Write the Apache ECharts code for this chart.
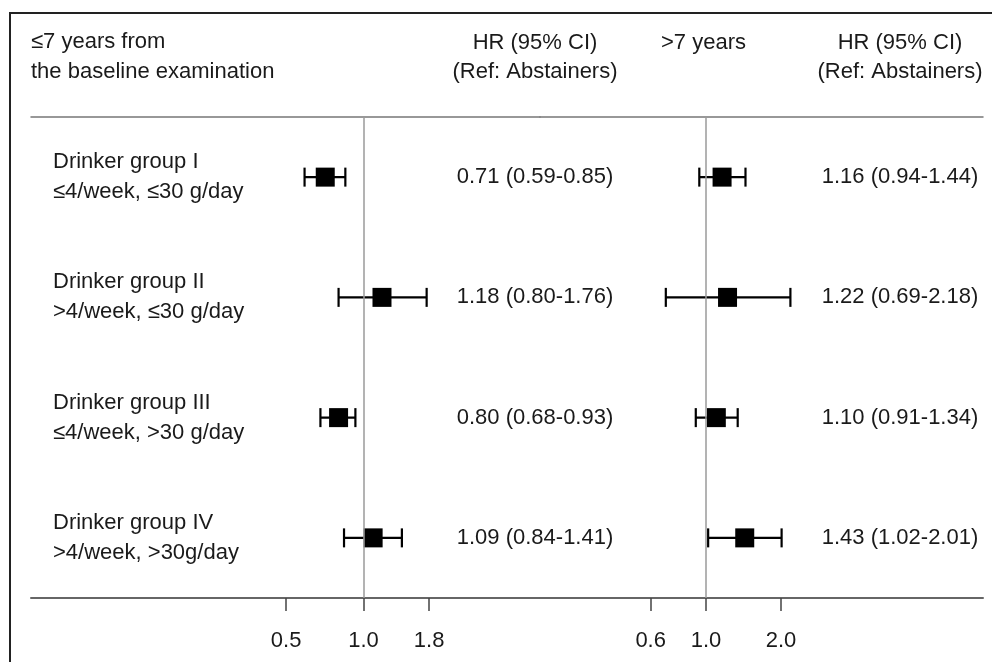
<!DOCTYPE html>
<html><head><meta charset="utf-8">
<script src="https://cdn.jsdelivr.net/npm/echarts@6/dist/echarts.min.js"></script>
<style>html,body{margin:0;padding:0;background:#fff}#c{width:992px;height:662px}</style>
</head><body><div id="c"></div>
<script>
const groups = ['Drinker group I', 'Drinker group II', 'Drinker group III', 'Drinker group IV'];
const criteria = ['≤4/week, ≤30 g/day', '>4/week, ≤30 g/day', '≤4/week, >30 g/day', '>4/week, >30g/day'];
const earlyHR = [0.71, 1.18, 0.80, 1.09];
const earlyLo = [0.59, 0.80, 0.68, 0.84];
const earlyHi = [0.85, 1.76, 0.93, 1.41];
const lateHR = [1.16, 1.22, 1.10, 1.43];
const lateLo = [0.94, 0.69, 0.91, 1.02];
const lateHi = [1.44, 2.18, 1.34, 2.01];
const earlyTicks = [0.5, 1.0, 1.8];
const lateTicks = [0.6, 1.0, 2.0];
const headerLeft = '≤7 years from\nthe baseline examination';
const headerRight = '>7 years';
const headerHR = 'HR (95% CI)\n(Ref: Abstainers)';

const FONT = '"Liberation Sans", Arial, Helvetica, sans-serif';
const TXT = '#1a1a1a';
const cats = groups.map((g, i) => String(i));
const fmt = v => v.toFixed(2);
const hrText = (hr, lo, hi) => hr.map((v, i) => fmt(v) + ' (' + fmt(lo[i]) + '-' + fmt(hi[i]) + ')');
const earlyText = hrText(earlyHR, earlyLo, earlyHi);
const lateText = hrText(lateHR, lateLo, lateHi);

function ciItem(params, api) {
  const y = api.value(0);
  const a = api.coord([api.value(1), y]);
  const b = api.coord([api.value(2), y]);
  const h = 9.5;
  const style = { stroke: '#000', lineWidth: 2.2 };
  return { type: 'group', children: [
    { type: 'line', shape: { x1: a[0], y1: a[1], x2: b[0], y2: b[1] }, style },
    { type: 'line', shape: { x1: a[0], y1: a[1] - h, x2: a[0], y2: a[1] + h }, style },
    { type: 'line', shape: { x1: b[0], y1: b[1] - h, x2: b[0], y2: b[1] + h }, style }
  ]};
}

function logAxis(gridIndex, min, max, ticks) {
  return {
    type: 'log', gridIndex, min, max, position: 'bottom',
    axisLine: { show: true, lineStyle: { color: '#666', width: 2 } },
    axisTick: { show: true, length: 13, customValues: ticks, lineStyle: { color: '#444', width: 1.5 } },
    axisLabel: { show: true, customValues: ticks, margin: 32, fontSize: 22, fontFamily: FONT, color: TXT,
      formatter: v => Number(v).toFixed(1) },
    splitLine: { show: false }, minorTick: { show: false }
  };
}
function topAxis(gridIndex) {
  return {
    type: 'value', gridIndex, position: 'top', min: 0, max: 1,
    axisLine: { show: true, lineStyle: { color: '#777', width: 1.5 } },
    axisTick: { show: false }, axisLabel: { show: false }, splitLine: { show: false }
  };
}
function catAxis(gridIndex, position, label) {
  return {
    type: 'category', gridIndex, position, data: cats, inverse: true, boundaryGap: true,
    axisLine: { show: false }, axisTick: { show: false }, splitLine: { show: false },
    axisLabel: label ? Object.assign({ show: true, fontSize: 22, fontFamily: FONT, color: TXT }, label) : { show: false }
  };
}
const refLine = {
  silent: true, symbol: 'none', label: { show: false },
  lineStyle: { color: '#9a9a9a', width: 1.5, type: 'solid' },
  data: [{ xAxis: 1 }]
};

const option = {
  animation: false,
  backgroundColor: '#fff',
  grid: [
    { left: 31, width: 509, top: 117, height: 481 },
    { left: 540, width: 443, top: 117, height: 481 }
  ],
  xAxis: [
    logAxis(0, Math.exp((31 - 363.5) / 111.7), Math.exp((540 - 363.5) / 111.7), earlyTicks),
    topAxis(0),
    logAxis(1, Math.exp((540 - 706) / 108.3), Math.exp((983 - 706) / 108.3), lateTicks),
    topAxis(1)
  ],
  yAxis: [
    catAxis(0, 'left', { align: 'left', margin: -22, lineHeight: 30,
      formatter: (v, i) => groups[i] + '\n' + criteria[i] }),
    catAxis(0, 'right', { align: 'center', margin: -5, padding: [4, 0, 0, 0], formatter: (v, i) => earlyText[i] }),
    catAxis(1, 'left', null),
    catAxis(1, 'right', { align: 'center', margin: -83, padding: [4, 0, 0, 0], formatter: (v, i) => lateText[i] })
  ],
  series: [
    { type: 'custom', xAxisIndex: 0, yAxisIndex: 0, renderItem: ciItem,
      encode: { x: [1, 2], y: 0 },
      data: cats.map((c, i) => [i, earlyLo[i], earlyHi[i]]), markLine: refLine, z: 3 },
    { type: 'scatter', xAxisIndex: 0, yAxisIndex: 0, symbol: 'rect', symbolSize: 19,
      itemStyle: { color: '#000', opacity: 1 }, data: cats.map((c, i) => [earlyHR[i], i]), z: 4 },
    { type: 'custom', xAxisIndex: 2, yAxisIndex: 2, renderItem: ciItem,
      encode: { x: [1, 2], y: 0 },
      data: cats.map((c, i) => [i, lateLo[i], lateHi[i]]), markLine: refLine, z: 3 },
    { type: 'scatter', xAxisIndex: 2, yAxisIndex: 2, symbol: 'rect', symbolSize: 19,
      itemStyle: { color: '#000', opacity: 1 }, data: cats.map((c, i) => [lateHR[i], i]), z: 4 }
  ],
  graphic: [
    { type: 'rect', shape: { x: 10, y: 13, width: 1100, height: 800 },
      style: { fill: 'none', stroke: '#222', lineWidth: 2 }, silent: true },
    { type: 'text', style: { text: headerLeft, x: 31, y: 57, align: 'left', verticalAlign: 'middle',
      fontSize: 22, fontFamily: FONT, lineHeight: 30, fill: TXT } },
    { type: 'text', style: { text: headerHR, x: 535, y: 57, align: 'center', verticalAlign: 'middle',
      fontSize: 22, fontFamily: FONT, lineHeight: 29, fill: TXT } },
    { type: 'text', style: { text: headerRight, x: 661, y: 43, align: 'left', verticalAlign: 'middle',
      fontSize: 22, fontFamily: FONT, fill: TXT } },
    { type: 'text', style: { text: headerHR, x: 900, y: 57, align: 'center', verticalAlign: 'middle',
      fontSize: 22, fontFamily: FONT, lineHeight: 29, fill: TXT } }
  ]
};
const chart = echarts.init(document.getElementById('c'), null, { renderer: 'canvas' });
chart.setOption(option);
</script>
</body></html>
